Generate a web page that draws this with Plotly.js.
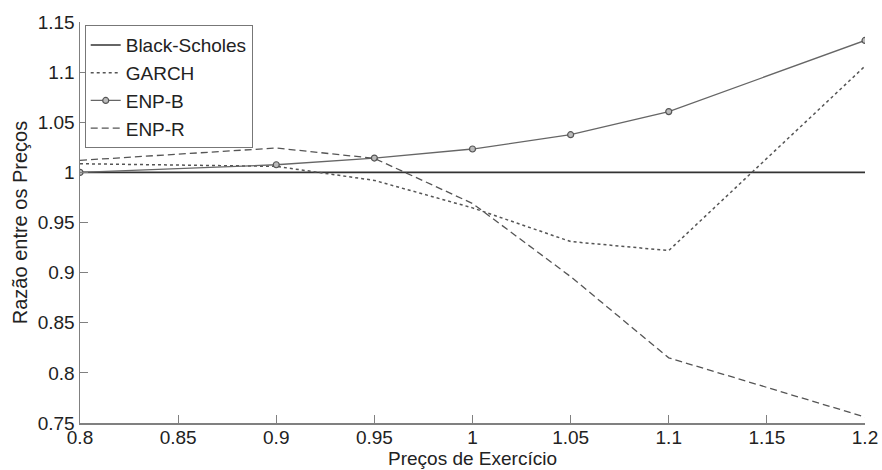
<!DOCTYPE html>
<html>
<head>
<meta charset="utf-8">
<script src="https://cdn.plot.ly/plotly-3.0.1.min.js"></script>
<style>html,body{margin:0;padding:0;background:#fff;}#chart{width:882px;height:470px;}</style>
</head>
<body>
<div id="chart"></div>
<script>
const strikes = [0.8, 0.9, 0.95, 1.0, 1.05, 1.1, 1.2];
const blackScholes = [1, 1, 1, 1, 1, 1, 1];
const garch = [1.0086, 1.006, 0.992, 0.9646, 0.931, 0.922, 1.106];
const enpB = [1.0, 1.0076, 1.0143, 1.0233, 1.0376, 1.0606, 1.1316];
const enpR = [1.012, 1.0243, 1.014, 0.969, 0.896, 0.815, 0.756];
const xTicks = [0.8, 0.85, 0.9, 0.95, 1, 1.05, 1.1, 1.15, 1.2];
const xTickText = ['0.8', '0.85', '0.9', '0.95', '1', '1.05', '1.1', '1.15', '1.2'];
const yTicks = [0.75, 0.8, 0.85, 0.9, 0.95, 1, 1.05, 1.1, 1.15];
const yTickText = ['0.75', '0.8', '0.85', '0.9', '0.95', '1', '1.05', '1.1', '1.15'];

const fam = 'Liberation Sans, Arial, sans-serif';
const txt = '#222';

const traces = [
  {x: strikes, y: blackScholes, name: 'Black-Scholes', mode: 'lines',
   line: {color: '#333333', width: 1.6}},
  {x: strikes, y: garch, name: 'GARCH', mode: 'lines',
   line: {color: '#555555', width: 1.5, dash: 'dot'}},
  {x: strikes, y: enpB, name: 'ENP-B', mode: 'lines+markers',
   line: {color: '#666666', width: 1.3},
   marker: {symbol: 'circle', size: 6, color: '#bbbbbb', line: {color: '#555555', width: 1.2}}},
  {x: strikes, y: enpR, name: 'ENP-R', mode: 'lines',
   line: {color: '#555555', width: 1.3, dash: '7px,4px'}}
];

const layout = {
  width: 882, height: 470,
  margin: {l: 80, r: 17, t: 22, b: 47},
  paper_bgcolor: '#fff', plot_bgcolor: '#fff',
  font: {family: fam, size: 19, color: txt},
  showlegend: true,
  legend: {x: 0.006, y: 0.992, xanchor: 'left', yanchor: 'top',
           bgcolor: '#fff', bordercolor: '#777', borderwidth: 1,
           font: {family: fam, size: 19, color: txt},
           tracegroupgap: 0, itemwidth: 30},
  xaxis: {range: [0.8, 1.2], tickvals: xTicks, ticktext: xTickText,
          showgrid: false, zeroline: false, showline: true, linecolor: '#808080', linewidth: 1.5,
          ticks: 'inside', ticklen: 8, tickcolor: '#808080', mirror: false,
          ticklabelstandoff: -3,
          tickfont: {family: fam, size: 19, color: txt},
          title: {text: 'Preços de Exercício', font: {family: fam, size: 19, color: txt}, standoff: 3}},
  yaxis: {range: [0.75, 1.15], tickvals: yTicks, ticktext: yTickText,
          showgrid: false, zeroline: false, showline: true, linecolor: '#808080', linewidth: 1.5,
          ticks: 'inside', ticklen: 8, tickcolor: '#808080', mirror: false,
          tickfont: {family: fam, size: 19, color: txt},
          title: {text: 'Razão entre os Preços', font: {family: fam, size: 20, color: txt}, standoff: 4}}
};

Plotly.newPlot('chart', traces, layout, {displayModeBar: false, staticPlot: true});
</script>
</body>
</html>
